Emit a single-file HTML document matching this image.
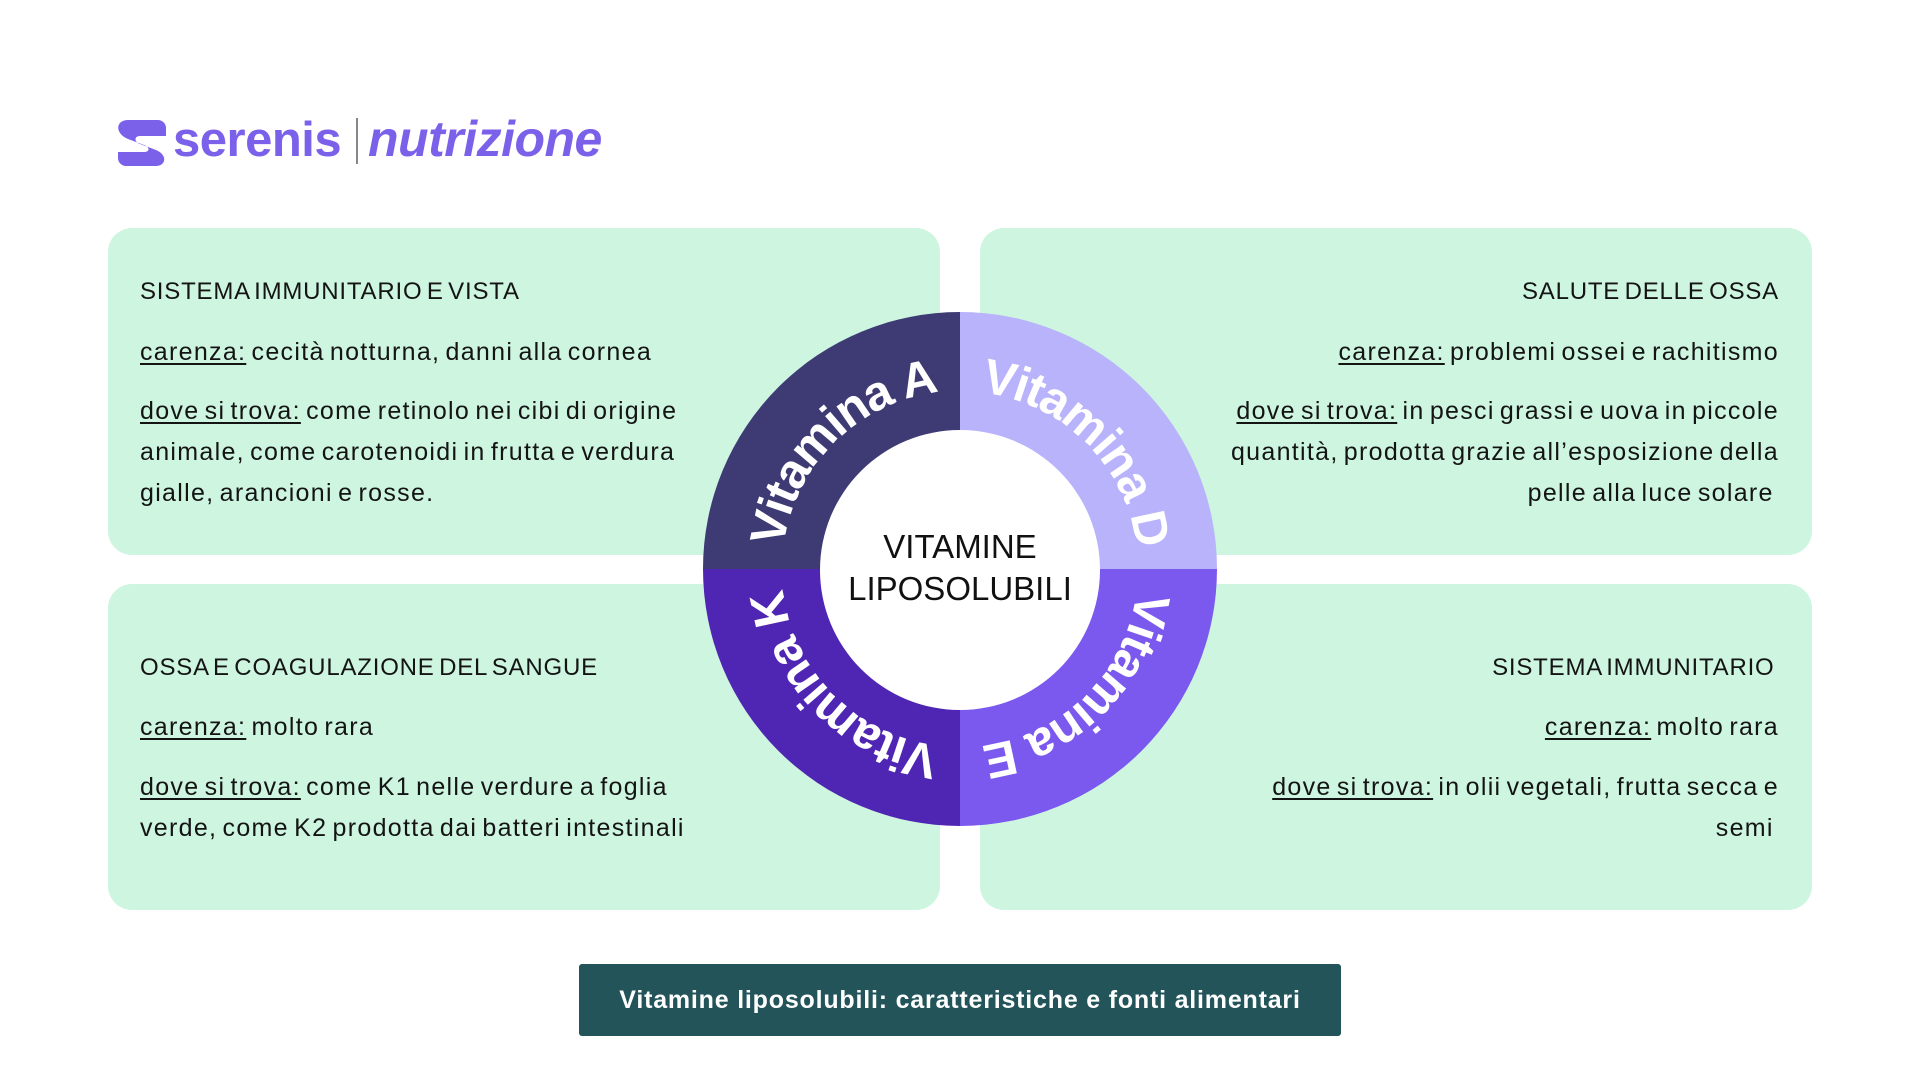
<!DOCTYPE html>
<html><head><meta charset="utf-8"><style>
html,body{margin:0;padding:0;background:#fff;}
body{width:1920px;height:1080px;position:relative;overflow:hidden;font-family:"Liberation Sans",sans-serif;color:#141414;}
.card{position:absolute;background:#cdf5e0;border-radius:24px;}
.t{position:absolute;font-size:25px;letter-spacing:1.3px;white-space:nowrap;line-height:25px;word-spacing:-3px;}
.h{letter-spacing:0.8px;font-size:24px;}
.l{left:140px;}
.r{right:141px;text-align:right;}
u{text-decoration-thickness:1.5px;text-underline-offset:3px;}
</style></head><body>
<svg width="1920" height="1080" style="position:absolute;left:0;top:0">
  <g>
    <path d="M124 120 h34 a8 8 0 0 1 8 8 v8 h-26 c-6 0 -6 6 0 8 l16 6 c12 5 10 16 0 16 h-30 a8 8 0 0 1 -8 -8 v-6 h26 c6 0 6 -5 0 -7 l-16 -6 c-14 -6 -12 -19 0 -19z" fill="#7b61ea"/>
    <text x="173" y="156" font-family="Liberation Sans" font-weight="bold" font-size="49" fill="#7b61ea" letter-spacing="-0.5">serenis</text>
    <rect x="356" y="118" width="2" height="46" fill="#888"/>
    <text x="368" y="156" font-family="Liberation Sans" font-weight="bold" font-size="50" font-style="italic" fill="#7b61ea" letter-spacing="-0.5">nutrizione</text>
  </g>
</svg>
<div class="card" style="left:108px;top:228px;width:832px;height:327px"></div>
<div class="card" style="left:980px;top:228px;width:832px;height:327px"></div>
<div class="card" style="left:108px;top:584px;width:832px;height:326px"></div>
<div class="card" style="left:980px;top:584px;width:832px;height:326px"></div>

<div class="t l h" style="top:279px">SISTEMA IMMUNITARIO E VISTA</div>
<div class="t l" style="top:340px"><u>carenza:</u> cecità notturna, danni alla cornea</div>
<div class="t l" style="top:399px;line-height:41px;margin-top:-8px"><u>dove si trova:</u> come retinolo nei cibi di origine<br>animale, come carotenoidi in frutta e verdura<br>gialle, arancioni e rosse.</div>

<div class="t r h" style="top:279px">SALUTE DELLE OSSA</div>
<div class="t r" style="top:340px"><u>carenza:</u> problemi ossei e rachitismo</div>
<div class="t r" style="top:399px;line-height:41px;margin-top:-8px"><u>dove si trova:</u> in pesci grassi e uova in piccole<br>quantità, prodotta grazie all’esposizione della<br>pelle alla luce solare&nbsp;</div>

<div class="t l h" style="top:655px">OSSA E COAGULAZIONE DEL SANGUE</div>
<div class="t l" style="top:715px"><u>carenza:</u> molto rara</div>
<div class="t l" style="top:775px;line-height:41px;margin-top:-8px"><u>dove si trova:</u> come K1 nelle verdure a foglia<br>verde, come K2 prodotta dai batteri intestinali</div>

<div class="t r h" style="top:655px">SISTEMA IMMUNITARIO&nbsp;</div>
<div class="t r" style="top:715px"><u>carenza:</u> molto rara</div>
<div class="t r" style="top:775px;line-height:41px;margin-top:-8px"><u>dove si trova:</u> in olii vegetali, frutta secca e<br>semi&nbsp;</div>

<svg width="1920" height="1080" style="position:absolute;left:0;top:0">
  <defs>
    <path id="ring" d="M1138 569 A178 178 0 1 1 782 569 A178 178 0 1 1 1138 569"/>
  </defs>
  <path d="M960 569 L703 569 A257 257 0 0 1 960 312 Z" fill="#3d3a74"/>
  <path d="M960 569 L960 312 A257 257 0 0 1 1217 569 Z" fill="#b9b3fb"/>
  <path d="M960 569 L1217 569 A257 257 0 0 1 960 826 Z" fill="#7b58ee"/>
  <path d="M960 569 L960 826 A257 257 0 0 1 703 569 Z" fill="#4f25b3"/>
  <circle cx="960" cy="570" r="140" fill="#fff"/>
  <g font-family="Liberation Sans" font-weight="bold" font-size="49" fill="#fff" text-anchor="middle" letter-spacing="-1.5">
    <text><textPath href="#ring" startOffset="12.5%">Vitamina E</textPath></text>
    <text><textPath href="#ring" startOffset="37.5%">Vitamina K</textPath></text>
    <text><textPath href="#ring" startOffset="62.5%">Vitamina A</textPath></text>
    <text><textPath href="#ring" startOffset="87.5%">Vitamina D</textPath></text>
  </g>
  <g font-family="Liberation Sans" font-size="33" fill="#111" text-anchor="middle">
    <text x="960" y="558">VITAMINE</text>
    <text x="960" y="600">LIPOSOLUBILI</text>
  </g>
</svg>

<div style="position:absolute;left:579px;top:964px;width:762px;height:72px;background:#22545a;border-radius:3px;color:#fff;font-weight:bold;font-size:25px;line-height:72px;text-align:center;letter-spacing:0.8px">Vitamine liposolubili: caratteristiche e fonti alimentari</div>
</body></html>
